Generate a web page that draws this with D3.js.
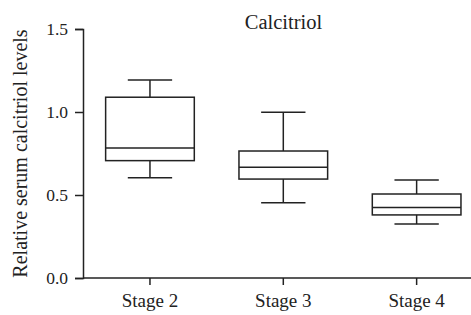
<!DOCTYPE html>
<html><head><meta charset="utf-8">
<script src="https://cdn.jsdelivr.net/npm/d3@7"></script>
<style>body{margin:0;background:#fff}svg{display:block}</style>
</head><body>
<script>
const categories = ["Stage 2", "Stage 3", "Stage 4"];
const whiskerMin = [0.604, 0.454, 0.325];
const q1 = [0.707, 0.596, 0.380];
const median = [0.783, 0.667, 0.424];
const q3 = [1.089, 0.765, 0.506];
const whiskerMax = [1.193, 0.998, 0.590];
const yTicks = [0.0, 0.5, 1.0, 1.5];
const title = "Calcitriol";
const yLabel = "Relative serum calcitriol levels";

const W = 471, H = 315;
const svg = d3.select("body").append("svg").attr("width", W).attr("height", H);
const font = "'Liberation Serif', 'DejaVu Serif', serif";
const ink = "#222";

const y = d3.scaleLinear().domain([0, 1.5]).range([278, 29]);
const x = d3.scaleBand().domain(categories).range([83.3, 483.3]).paddingInner(0.335).paddingOuter(0.1675);

const yAxis = svg.append("g").attr("transform", "translate(83,0)")
  .call(d3.axisLeft(y).tickValues(yTicks).tickFormat(d3.format(".1f")).tickSize(8).tickPadding(7));
const xAxis = svg.append("g").attr("transform", "translate(0,278)")
  .call(d3.axisBottom(x).tickSize(7).tickPadding(8.5));
xAxis.select(".domain").attr("d", "M83,0H471");
[yAxis, xAxis].forEach(g => {
  g.selectAll("path,line").attr("stroke", ink).attr("stroke-width", 1.5);
  g.selectAll("text").attr("fill", ink).style("font-family", font);
});
yAxis.selectAll("text").style("font-size", "17.5px").attr("dy", "0.3em");
xAxis.selectAll("text").style("font-size", "19px");

const bw = x.bandwidth();
categories.forEach((c, i) => {
  const g = svg.append("g").attr("stroke", ink).attr("stroke-width", 1.5).attr("fill", "none");
  const cx = x(c) + bw / 2;
  g.append("line").attr("x1", cx).attr("x2", cx).attr("y1", y(whiskerMax[i])).attr("y2", y(q3[i]));
  g.append("line").attr("x1", cx).attr("x2", cx).attr("y1", y(q1[i])).attr("y2", y(whiskerMin[i]));
  g.append("line").attr("x1", cx - bw / 4).attr("x2", cx + bw / 4).attr("y1", y(whiskerMax[i])).attr("y2", y(whiskerMax[i]));
  g.append("line").attr("x1", cx - bw / 4).attr("x2", cx + bw / 4).attr("y1", y(whiskerMin[i])).attr("y2", y(whiskerMin[i]));
  g.append("rect").attr("x", x(c)).attr("width", bw).attr("y", y(q3[i])).attr("height", y(q1[i]) - y(q3[i]));
  g.append("line").attr("x1", x(c)).attr("x2", x(c) + bw).attr("y1", y(median[i])).attr("y2", y(median[i]));
});

svg.append("text").attr("x", 283.5).attr("y", 29).attr("text-anchor", "middle")
  .style("font-family", font).style("font-size", "20.5px").attr("fill", ink).text(title);
svg.append("text").attr("transform", "translate(27,153.5) rotate(-90)").attr("text-anchor", "middle")
  .style("font-family", font).style("font-size", "20px").attr("fill", ink).text(yLabel);
</script>
</body></html>
